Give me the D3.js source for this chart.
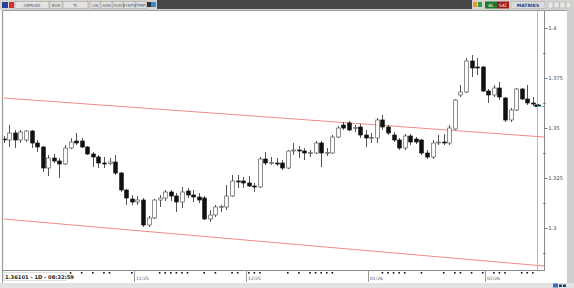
<!DOCTYPE html>
<html>
<head>
<meta charset="utf-8">
<script src="https://cdn.jsdelivr.net/npm/d3@7"></script>
<style>
  body { margin: 0; background: #fff; }
  svg { display: block; font-family: "DejaVu Sans", sans-serif; }
</style>
</head>
<body>
<div id="chart"></div>
<script>
// GBPUSD daily candles
var opens = [1.3445,1.344,1.3475,1.344,1.344,1.3485,1.3425,1.3405,1.330,1.335,
             1.3335,1.332,1.340,1.3435,1.3435,1.3405,1.337,1.3355,1.3325,1.3322,
             1.333,1.3275,1.319,1.3145,1.313,1.314,1.3015,1.305,1.314,1.315,
             1.318,1.316,1.313,1.3185,1.3165,1.3155,1.315,1.3045,1.3065,1.3105,
             1.3105,1.316,1.3235,1.3235,1.3225,1.321,1.3205,1.3345,1.3325,1.3325,
             1.3325,1.330,1.3385,1.339,1.3385,1.3375,1.3375,1.3425,1.3375,1.3375,
             1.3455,1.3515,1.3525,1.350,1.3505,1.3465,1.345,1.345,1.354,1.3505,
             1.3465,1.344,1.340,1.346,1.3445,1.344,1.3375,1.3355,1.3428,1.343,
             1.3425,1.3495,1.3665,1.368,1.3835,1.3805,1.3805,1.3685,1.3665,1.370,
             1.365,1.354,1.359,1.3695,1.3645,1.3625,1.3615];
var highs = [1.346,1.3515,1.349,1.349,1.349,1.349,1.344,1.341,1.3365,1.337,
             1.335,1.3415,1.345,1.3475,1.345,1.341,1.338,1.3365,1.3355,1.335,
             1.3365,1.328,1.3195,1.3165,1.316,1.315,1.306,1.3145,1.3165,1.319,
             1.319,1.3175,1.3205,1.320,1.319,1.3175,1.316,1.309,1.3115,1.3115,
             1.3215,1.3265,1.3265,1.3255,1.326,1.3225,1.3355,1.338,1.3355,1.335,
             1.334,1.339,1.3425,1.341,1.340,1.339,1.3435,1.3435,1.340,1.3465,
             1.351,1.353,1.3535,1.3515,1.352,1.349,1.3475,1.355,1.3565,1.3515,
             1.348,1.345,1.347,1.347,1.3455,1.3445,1.339,1.344,1.3465,1.347,
             1.3515,1.3645,1.3715,1.385,1.3865,1.385,1.381,1.3695,1.3715,1.373,
             1.3655,1.360,1.370,1.370,1.3715,1.3655,1.362];
var lows = [1.3425,1.3405,1.340,1.3425,1.343,1.340,1.338,1.328,1.326,1.3325,
            1.325,1.3315,1.3395,1.3415,1.340,1.3365,1.3305,1.330,1.330,1.3315,
            1.3265,1.318,1.3115,1.3115,1.3115,1.3005,1.3005,1.3045,1.3105,1.3135,
            1.3135,1.308,1.310,1.315,1.313,1.3125,1.304,1.303,1.3055,1.308,
            1.309,1.3155,1.320,1.320,1.3205,1.318,1.320,1.3315,1.3315,1.331,
            1.329,1.3295,1.3365,1.335,1.334,1.3355,1.337,1.3305,1.336,1.337,
            1.345,1.349,1.3485,1.348,1.345,1.3405,1.3425,1.3425,1.349,1.3465,
            1.343,1.339,1.339,1.3415,1.342,1.3365,1.3345,1.3345,1.3415,1.3415,
            1.3415,1.349,1.3655,1.3675,1.3755,1.3765,1.368,1.3625,1.3655,1.364,
            1.353,1.353,1.3585,1.364,1.3615,1.361,1.3605];
var closes = [1.344,1.3475,1.344,1.348,1.3485,1.3425,1.3405,1.330,1.335,1.3335,
              1.332,1.340,1.343,1.3425,1.3405,1.337,1.3355,1.3325,1.3322,1.333,
              1.3275,1.319,1.315,1.313,1.314,1.3015,1.305,1.314,1.315,1.318,
              1.316,1.313,1.318,1.3165,1.3155,1.314,1.3045,1.3065,1.3105,1.3108,
              1.316,1.3235,1.3232,1.3225,1.321,1.3205,1.3345,1.3325,1.3328,1.3322,
              1.330,1.3385,1.339,1.3388,1.3375,1.3378,1.3425,1.3375,1.3378,1.3455,
              1.350,1.350,1.349,1.3502,1.3465,1.345,1.3452,1.354,1.3505,1.3475,
              1.344,1.340,1.346,1.343,1.343,1.3375,1.3355,1.3425,1.343,1.3425,
              1.350,1.364,1.368,1.3835,1.380,1.3802,1.3685,1.3665,1.370,1.3655,
              1.354,1.359,1.3695,1.3645,1.3625,1.3622,1.36101];

// channel lines: [start index, start price, end index, end price]
var upperChannel = [0, 1.365, 97, 1.3455];
var lowerChannel = [0, 1.3045, 97, 1.281];

// axis ticks
var priceTicks = [1.3, 1.325, 1.35, 1.375, 1.4];
var minorTicks = [1.2875, 1.3125, 1.3375, 1.3625, 1.3875];
var eventMarks = [12,14,16,18,19,23,28,29,30,31,32,33,36,38,41,42,44,45,46,51,53,55,
                  56,57,58,59,68,69,70,71,72,75,79,81,82,84,86,88,89,90,93,94,95];

var firstDay = "2025-09-30", holidays = ["2025-12-25", "2026-01-01"];
var lastInfo = "1.36101 - 1D - 08:32:59";

var W = 574, H = 288;
var plot = {left: 3, right: 544, top: 11, bottom: 270};

// trading days (weekdays minus holidays) as the category axis
var parseDay = d3.utcParse("%Y-%m-%d"), fmtDay = d3.utcFormat("%Y-%m-%d");
var days = [], d = parseDay(firstDay);
while (days.length < closes.length) {
  var wd = d.getUTCDay();
  if (wd !== 0 && wd !== 6 && holidays.indexOf(fmtDay(d)) < 0) days.push(d);
  d = d3.utcDay.offset(d, 1);
}

var candles = closes.map(function(c, i) {
  return {date: days[i], i: i, open: opens[i], high: highs[i], low: lows[i], close: c};
});

var svg = d3.select("#chart").append("svg")
    .attr("width", W)
    .attr("height", H);

// setup x / y
var xScale = d3.scaleLinear().domain([0, 96]).range([3.7, 538.4]);
var yScale = d3.scaleLinear().domain([1.3, 1.4]).range([228, 28]);

// ---- toolbar ----
svg.append("rect").attr("x", 0).attr("y", 0).attr("width", W).attr("height", 10).attr("fill", "#d6d3ce");
svg.append("rect").attr("x", 157).attr("y", 0).attr("width", 315).attr("height", 9).attr("fill", "#474747");
svg.append("rect").attr("x", 2).attr("y", 2).attr("width", 6).attr("height", 6).attr("fill", "#2a3f9a");
svg.append("rect").attr("x", 9).attr("y", 2).attr("width", 5).attr("height", 6).attr("fill", "#d03030");

var tools = [
  {x: 15, w: 34, t: "GBPUSD"}, {x: 50, w: 12, t: "BUN"}, {x: 63, w: 25, t: "TL"},
  {x: 90, w: 10, t: "LIN"}, {x: 101, w: 11, t: "XAN"}, {x: 113, w: 10, t: "SVD"},
  {x: 124, w: 11, t: "SYNTH"}, {x: 136, w: 10, t: "TMP"}
];
var tb = svg.append("g").attr("class", "toolbar");
tb.selectAll("rect").data(tools).enter().append("rect")
    .attr("x", function(t) { return t.x; }).attr("y", 1.5)
    .attr("width", function(t) { return t.w; }).attr("height", 7)
    .attr("fill", "#e4e2de").attr("stroke", "#9a9a9a").attr("stroke-width", 0.5);
tb.selectAll("text").data(tools).enter().append("text")
    .attr("x", function(t) { return t.x + t.w / 2; }).attr("y", 7)
    .attr("text-anchor", "middle").attr("font-size", 4).attr("fill", "#556")
    .text(function(t) { return t.t; });
svg.append("rect").attr("x", 147).attr("y", 2).attr("width", 4).attr("height", 5).attr("fill", "#333");
svg.append("rect").attr("x", 151).attr("y", 2).attr("width", 5).attr("height", 5).attr("fill", "#3a8ad0");

// right side of toolbar
svg.append("rect").attr("x", 473).attr("y", 2).attr("width", 4).attr("height", 5).attr("fill", "#e0a020");
svg.append("rect").attr("x", 478).attr("y", 2).attr("width", 4).attr("height", 5).attr("fill", "#2e9a4a");
svg.append("rect").attr("x", 485).attr("y", 1.5).attr("width", 12).attr("height", 7).attr("fill", "#1f7a2f");
svg.append("text").attr("x", 491).attr("y", 7).attr("text-anchor", "middle").attr("font-size", 4.5).attr("fill", "#fff").text("AL");
svg.append("rect").attr("x", 497).attr("y", 1.5).attr("width", 12).attr("height", 7).attr("fill", "#a01818");
svg.append("text").attr("x", 503).attr("y", 7).attr("text-anchor", "middle").attr("font-size", 4.5).attr("fill", "#fff").text("SAT");
svg.append("rect").attr("x", 511).attr("y", 1.5).attr("width", 34).attr("height", 7).attr("fill", "#dcdcdc").attr("stroke", "#aaa").attr("stroke-width", 0.5);
svg.append("text").attr("x", 528).attr("y", 7).attr("text-anchor", "middle").attr("font-size", 4.5).attr("font-weight", "bold").attr("fill", "#2a3a80").text("MATRIKS");
[548, 554, 560, 566].forEach(function(bx) {
  svg.append("rect").attr("x", bx).attr("y", 2).attr("width", 5).attr("height", 6)
      .attr("fill", "#e8e8e8").attr("stroke", "#aaa").attr("stroke-width", 0.5);
});

// ---- frame ----
svg.append("rect").attr("x", 567).attr("y", 10).attr("width", 7).attr("height", 274).attr("fill", "#cfcfcf");
svg.append("rect").attr("x", 0).attr("y", 283).attr("width", W).attr("height", 5).attr("fill", "#e2e2e2");
svg.append("line").attr("x1", 2.5).attr("x2", 2.5).attr("y1", 10).attr("y2", 283).attr("stroke", "#9a9a9a").attr("stroke-width", 1.2);
svg.append("line").attr("x1", 2).attr("x2", 567).attr("y1", 10.5).attr("y2", 10.5).attr("stroke", "#9a9a9a");

// clip for plot area
svg.append("clipPath").attr("id", "plotclip").append("rect")
    .attr("x", plot.left + 0.5).attr("y", plot.top)
    .attr("width", plot.right - plot.left - 0.5).attr("height", plot.bottom - plot.top);

var g = svg.append("g").attr("clip-path", "url(#plotclip)");

// channel lines
[upperChannel, lowerChannel].forEach(function(c) {
  g.append("line")
      .attr("x1", xScale(c[0])).attr("y1", yScale(c[1]))
      .attr("x2", xScale(c[2])).attr("y2", yScale(c[3]))
      .attr("stroke", "#f08a8a").attr("stroke-width", 1);
});

// marker line at the last bar
svg.append("line").attr("x1", 537.5).attr("x2", 537.5).attr("y1", 11).attr("y2", plot.bottom)
    .attr("stroke", "#b8b8b8").attr("stroke-width", 1);

// draw candles
var bodyW = 3.6;
var candle = g.selectAll(".candle")
    .data(candles)
  .enter().append("g")
    .attr("class", "candle");

candle.append("line")
    .attr("x1", function(c) { return Math.round(xScale(c.i)) + 0.5; })
    .attr("x2", function(c) { return Math.round(xScale(c.i)) + 0.5; })
    .attr("y1", function(c) { return yScale(c.high); })
    .attr("y2", function(c) { return yScale(c.low); })
    .attr("stroke", "#555")
    .attr("stroke-width", 1);

candle.append("rect")
    .attr("x", function(c) { return Math.round(xScale(c.i)) + 0.5 - bodyW / 2; })
    .attr("y", function(c) { return yScale(Math.max(c.open, c.close)); })
    .attr("width", bodyW)
    .attr("height", function(c) { return Math.max(1, Math.abs(yScale(c.open) - yScale(c.close))); })
    .attr("fill", function(c) { return c.close >= c.open ? "#fff" : "#111"; })
    .attr("stroke", function(c) { return c.close >= c.open ? "#555" : "#111"; })
    .attr("stroke-width", 0.7);

// ---- y axis (right) ----
svg.append("line").attr("x1", plot.right + 0.5).attr("x2", plot.right + 0.5)
    .attr("y1", 11).attr("y2", plot.bottom).attr("stroke", "#8a8a8a");

var yAxis = d3.axisRight(yScale)
    .tickValues(priceTicks)
    .tickSize(3)
    .tickFormat(function(v) { return String(+v.toFixed(3)); });
var ya = svg.append("g")
    .attr("transform", "translate(" + (plot.right + 0.5) + ",0)")
    .call(yAxis);
ya.select(".domain").remove();
ya.selectAll("line").attr("stroke", "#777");
ya.selectAll("text").attr("font-size", 5).attr("fill", "#444").attr("x", 4)
    .attr("font-family", "DejaVu Sans, sans-serif");

svg.append("g").selectAll("line")
    .data(minorTicks)
  .enter().append("line")
    .attr("x1", plot.right - 1).attr("x2", plot.right + 2)
    .attr("y1", function(v) { return Math.round(yScale(v)) + 0.5; })
    .attr("y2", function(v) { return Math.round(yScale(v)) + 0.5; })
    .attr("stroke", "#888");

// last price marker
var last = candles[candles.length - 1];
svg.append("line").attr("x1", 538).attr("x2", plot.right)
    .attr("y1", Math.round(yScale(last.close)) + 0.5).attr("y2", Math.round(yScale(last.close)) + 0.5)
    .attr("stroke", "#5ccfe0");
svg.append("rect").attr("x", 534.5).attr("y", yScale(last.close) - 1.5)
    .attr("width", 3).attr("height", 2.5).attr("fill", "#111");

// ---- x axis (bottom) ----
svg.append("line").attr("x1", plot.left).attr("x2", plot.right + 1)
    .attr("y1", plot.bottom + 0.5).attr("y2", plot.bottom + 0.5).attr("stroke", "#8a8a8a");

svg.append("g").selectAll("rect")
    .data(eventMarks)
  .enter().append("rect")
    .attr("x", function(i) { return xScale(i) - 0.8; })
    .attr("y", plot.bottom + 2)
    .attr("width", 1.6).attr("height", 1.6)
    .attr("fill", "#111");

var fmtMonth = d3.utcFormat("%m/%y");
var monthStarts = candles.filter(function(c, i) {
  return i > 0 && c.date.getUTCMonth() !== candles[i - 1].date.getUTCMonth() && xScale(i) > 20;
});
var mt = svg.append("g").selectAll("g")
    .data(monthStarts)
  .enter().append("g")
    .attr("transform", function(c) { return "translate(" + (Math.round(xScale(c.i)) - 2.5) + "," + plot.bottom + ")"; });
mt.append("line").attr("y1", 0).attr("y2", 12).attr("stroke", "#999");
mt.append("text").attr("x", 1.5).attr("y", 10).attr("font-size", 4.5).attr("fill", "#555")
    .text(function(c) { return fmtMonth(c.date); });

// info box
svg.append("rect").attr("x", 4).attr("y", 272.5).attr("width", 62).attr("height", 8)
    .attr("fill", "#fff").attr("stroke", "#bbb").attr("stroke-width", 0.5);
svg.append("text").attr("x", 5).attr("y", 279).attr("font-size", 5.2).attr("font-weight", "bold")
    .attr("fill", "#222").text(lastInfo);

// bottom bar icons
svg.append("rect").attr("x", 553).attr("y", 283.5).attr("width", 5).attr("height", 4).attr("fill", "#3b6fc0");
svg.append("rect").attr("x", 559).attr("y", 284.5).attr("width", 3).attr("height", 2.5).attr("fill", "#1a3a80");
svg.append("rect").attr("x", 563).attr("y", 284.5).attr("width", 3).attr("height", 2.5).attr("fill", "#1a3a80");
</script>
</body>
</html>
